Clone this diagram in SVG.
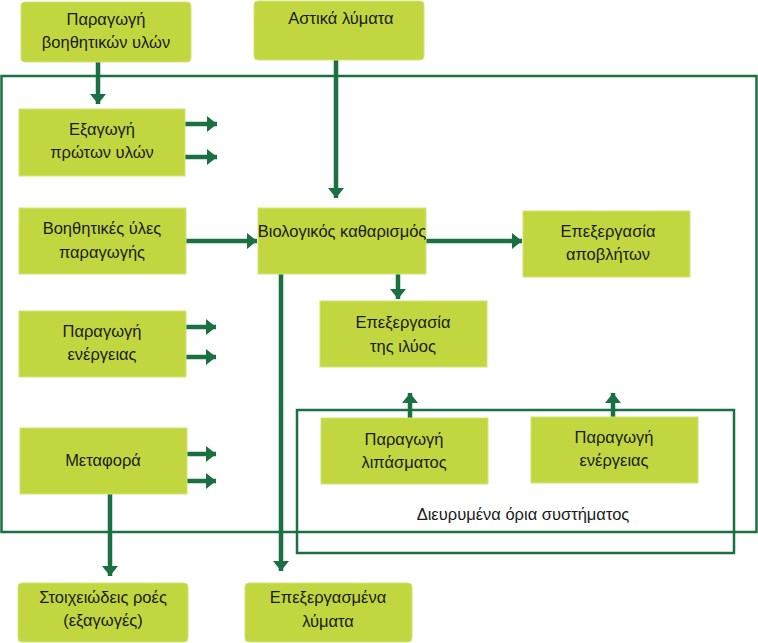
<svg xmlns="http://www.w3.org/2000/svg" width="758" height="643" viewBox="0 0 758 643">
<style>
.box{fill:#c2d73f;stroke:#d2e27a;stroke-width:1}
.t{font-family:"Liberation Sans",Arial,sans-serif;font-size:16.5px;fill:#1a1a1a;text-anchor:middle}
.ln{stroke:#1a7040;stroke-width:4.5;fill:none}
.bd{stroke:#1a7040;stroke-width:2.5;fill:none}
</style>
<defs>
<marker id="ah" viewBox="0 0 10 16" refX="10" refY="8" markerWidth="10" markerHeight="16" markerUnits="userSpaceOnUse" orient="auto">
<path d="M0,0 L10,8 L0,16 Z" fill="#1a7040"/>
</marker>
</defs>
<rect width="758" height="643" fill="#ffffff"/>
<g id="boundaries">
<rect id="system-boundary" class="bd" x="1.5" y="76" width="755" height="456"/>
<rect id="extended-boundary" class="bd" x="297" y="410" width="437" height="143"/>
<text class="t" x="523" y="520">Διευρυμένα όρια συστήματος</text>
</g>
<g id="connectors">
<line class="ln" x1="98" y1="62" x2="98" y2="104" marker-end="url(#ah)"/>
<line class="ln" x1="336" y1="60" x2="336" y2="198" marker-end="url(#ah)"/>
<line class="ln" x1="185" y1="124" x2="217" y2="124" marker-end="url(#ah)"/>
<line class="ln" x1="185" y1="157" x2="217" y2="157" marker-end="url(#ah)"/>
<line class="ln" x1="186" y1="241" x2="257" y2="241" marker-end="url(#ah)"/>
<line class="ln" x1="426" y1="241" x2="522" y2="241" marker-end="url(#ah)"/>
<line class="ln" x1="398" y1="274" x2="398" y2="299" marker-end="url(#ah)"/>
<line class="ln" x1="281" y1="274" x2="281" y2="571" marker-end="url(#ah)"/>
<line class="ln" x1="186" y1="327" x2="216" y2="327" marker-end="url(#ah)"/>
<line class="ln" x1="186" y1="357" x2="216" y2="357" marker-end="url(#ah)"/>
<line class="ln" x1="187" y1="454" x2="216" y2="454" marker-end="url(#ah)"/>
<line class="ln" x1="187" y1="481" x2="216" y2="481" marker-end="url(#ah)"/>
<line class="ln" x1="110" y1="494" x2="110" y2="576" marker-end="url(#ah)"/>
<line class="ln" x1="410" y1="418" x2="410" y2="393" marker-end="url(#ah)"/>
<line class="ln" x1="613" y1="417" x2="613" y2="393" marker-end="url(#ah)"/>
</g>
<g id="n-aux-prod">
<rect class="box" x="21" y="2" width="170" height="60" rx="4"/>
<text class="t" x="106" y="25">Παραγωγή</text>
<text class="t" x="106" y="48">βοηθητικών υλών</text>
</g>
<g id="n-urban">
<rect class="box" x="254" y="1" width="170" height="59" rx="4"/>
<text class="t" x="341" y="24">Αστικά λύματα</text>
</g>
<g id="n-extraction">
<rect class="box" x="19" y="109" width="166" height="67"/>
<text class="t" x="102" y="135">Εξαγωγή</text>
<text class="t" x="102" y="158">πρώτων υλών</text>
</g>
<g id="n-aux-materials">
<rect class="box" x="19" y="208" width="167" height="66"/>
<text class="t" x="102" y="234">Βοηθητικές ύλες</text>
<text class="t" x="102" y="258">παραγωγής</text>
</g>
<g id="n-bio">
<rect class="box" x="258" y="208" width="168" height="66"/>
<text class="t" x="342" y="237">Βιολογικός καθαρισμός</text>
</g>
<g id="n-waste">
<rect class="box" x="523" y="211" width="167" height="66"/>
<text class="t" x="608" y="237">Επεξεργασία</text>
<text class="t" x="608" y="260">αποβλήτων</text>
</g>
<g id="n-sludge">
<rect class="box" x="320" y="301" width="167" height="66"/>
<text class="t" x="403" y="328">Επεξεργασία</text>
<text class="t" x="403" y="352">της ιλύος</text>
</g>
<g id="n-energy-left">
<rect class="box" x="19" y="311" width="167" height="66"/>
<text class="t" x="102" y="337">Παραγωγή</text>
<text class="t" x="102" y="360">ενέργειας</text>
</g>
<g id="n-transport">
<rect class="box" x="20" y="428" width="167" height="66"/>
<text class="t" x="103" y="466">Μεταφορά</text>
</g>
<g id="n-fertilizer">
<rect class="box" x="321" y="418" width="167" height="66"/>
<text class="t" x="404" y="445">Παραγωγή</text>
<text class="t" x="404" y="468">λιπάσματος</text>
</g>
<g id="n-energy-right">
<rect class="box" x="531" y="417" width="167" height="66"/>
<text class="t" x="614" y="443">Παραγωγή</text>
<text class="t" x="614" y="466">ενέργειας</text>
</g>
<g id="n-elementary">
<rect class="box" x="18" y="583" width="170" height="59" rx="4"/>
<text class="t" x="103" y="603">Στοιχειώδεις ροές</text>
<text class="t" x="103" y="626">(εξαγωγές)</text>
</g>
<g id="n-treated">
<rect class="box" x="245" y="583" width="167" height="59" rx="4"/>
<text class="t" x="328" y="603">Επεξεργασμένα</text>
<text class="t" x="328" y="627">λύματα</text>
</g>
</svg>
